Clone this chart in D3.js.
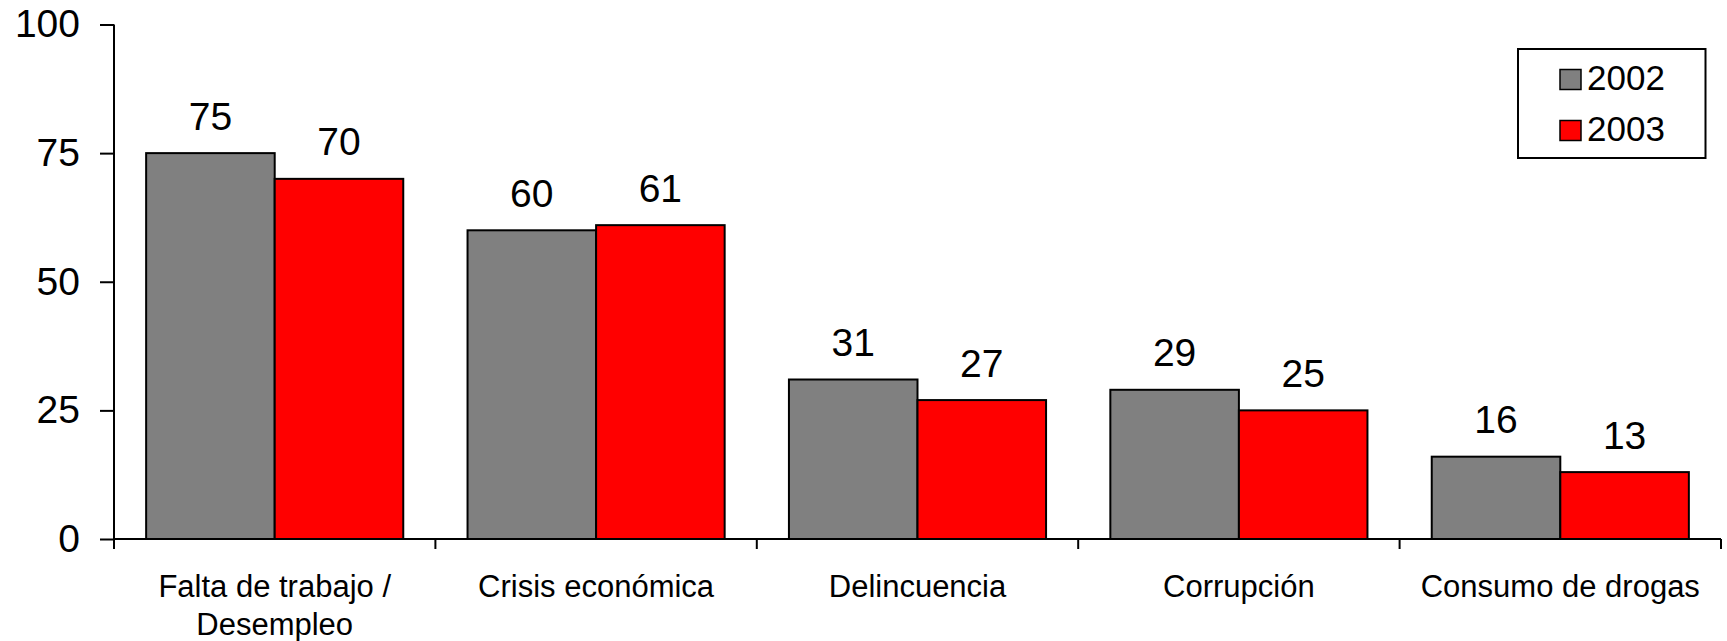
<!DOCTYPE html>
<html>
<head>
<meta charset="utf-8">
<script src="https://cdn.jsdelivr.net/npm/d3@7/dist/d3.min.js"></script>
<style>
  html, body { margin: 0; padding: 0; background: #fff; }
  svg { display: block; font-family: "Liberation Sans", Arial, sans-serif; }
</style>
</head>
<body>
<svg id="chart" width="1727" height="641"></svg>
<script>
const categories = ["Falta de trabajo / Desempleo", "Crisis económica", "Delincuencia", "Corrupción", "Consumo de drogas"];
const categoryLines = [["Falta de trabajo /", "Desempleo"], ["Crisis económica"], ["Delincuencia"], ["Corrupción"], ["Consumo de drogas"]];
const series = ["2002", "2003"];
const values2002 = [75, 60, 31, 29, 16];
const values2003 = [70, 61, 27, 25, 13];
const yTicks = [0, 25, 50, 75, 100];
const colors = ["#808080", "#ff0000"];

(function () {
const svg = d3.select("#chart");
const plotLeft = 114, plotRight = 1721, plotTop = 24.5, plotBottom = 539;

const x0 = d3.scaleBand().domain(categories).range([plotLeft, plotRight]).paddingInner(0).paddingOuter(0);
const x1 = d3.scaleBand().domain(series).range([0, x0.bandwidth()]).paddingInner(0).paddingOuter(0.25);
const y = d3.scaleLinear().domain([0, 100]).range([plotBottom, plotTop]);

const seriesValues = [values2002, values2003];

// Bars
categories.forEach((c, i) => {
  const g = svg.append("g").attr("transform", `translate(${x0(c)},0)`);
  series.forEach((s, j) => {
    const v = seriesValues[j][i];
    g.append("rect")
      .attr("x", x1(s))
      .attr("y", y(v))
      .attr("width", x1.bandwidth())
      .attr("height", y(0) - y(v))
      .attr("fill", colors[j])
      .attr("stroke", "#000")
      .attr("stroke-width", 2);
    g.append("text")
      .attr("x", x1(s) + x1.bandwidth() / 2)
      .attr("y", y(v) - 23.5)
      .attr("text-anchor", "middle")
      .attr("font-size", 39)
      .attr("fill", "#000")
      .text(v);
  });
});

// Y axis
const yAxis = d3.axisLeft(y).tickValues(yTicks).tickSize(14).tickPadding(20).tickSizeOuter(0);
const yg = svg.append("g").attr("transform", `translate(${plotLeft},0)`).call(yAxis);
yg.select(".domain").attr("stroke", "#000").attr("stroke-width", 2).attr("d", `M0,${plotTop}V${plotBottom + 10}`);
yg.selectAll(".tick line").attr("stroke", "#000").attr("stroke-width", 2);
yg.selectAll(".tick text").attr("font-size", 39).attr("fill", "#000")
  .attr("font-family", "'Liberation Sans', Arial, sans-serif");

// X axis line
svg.append("line").attr("x1", plotLeft).attr("x2", plotRight).attr("y1", y(0)).attr("y2", y(0))
  .attr("stroke", "#000").attr("stroke-width", 2);
const boundaries = categories.map(c => x0(c)).concat([x0.range()[1]]);
svg.selectAll(".xtick").data(boundaries).enter().append("line")
  .attr("class", "xtick")
  .attr("x1", d => d).attr("x2", d => d)
  .attr("y1", y(0)).attr("y2", y(0) + 10)
  .attr("stroke", "#000").attr("stroke-width", 2);

// Category labels
categories.forEach((c, i) => {
  const t = svg.append("text")
    .attr("x", x0(c) + x0.bandwidth() / 2)
    .attr("y", 597)
    .attr("text-anchor", "middle")
    .attr("font-size", 31)
    .attr("fill", "#000");
  categoryLines[i].forEach((line, k) => {
    t.append("tspan").attr("x", x0(c) + x0.bandwidth() / 2).attr("dy", k === 0 ? 0 : 38.3).text(line);
  });
});

// Legend
const lg = svg.append("g");
lg.append("rect").attr("x", 1518).attr("y", 49).attr("width", 187.5).attr("height", 109)
  .attr("fill", "#fff").attr("stroke", "#000").attr("stroke-width", 2);
series.forEach((s, j) => {
  const yy = 69.5 + j * 51;
  lg.append("rect").attr("x", 1560).attr("y", yy).attr("width", 21).attr("height", 20)
    .attr("fill", colors[j]).attr("stroke", "#000").attr("stroke-width", 1.5);
  lg.append("text").attr("x", 1587).attr("y", yy + 20)
    .attr("font-size", 35).attr("fill", "#000").text(s);
});
})();
</script>
</body>
</html>
